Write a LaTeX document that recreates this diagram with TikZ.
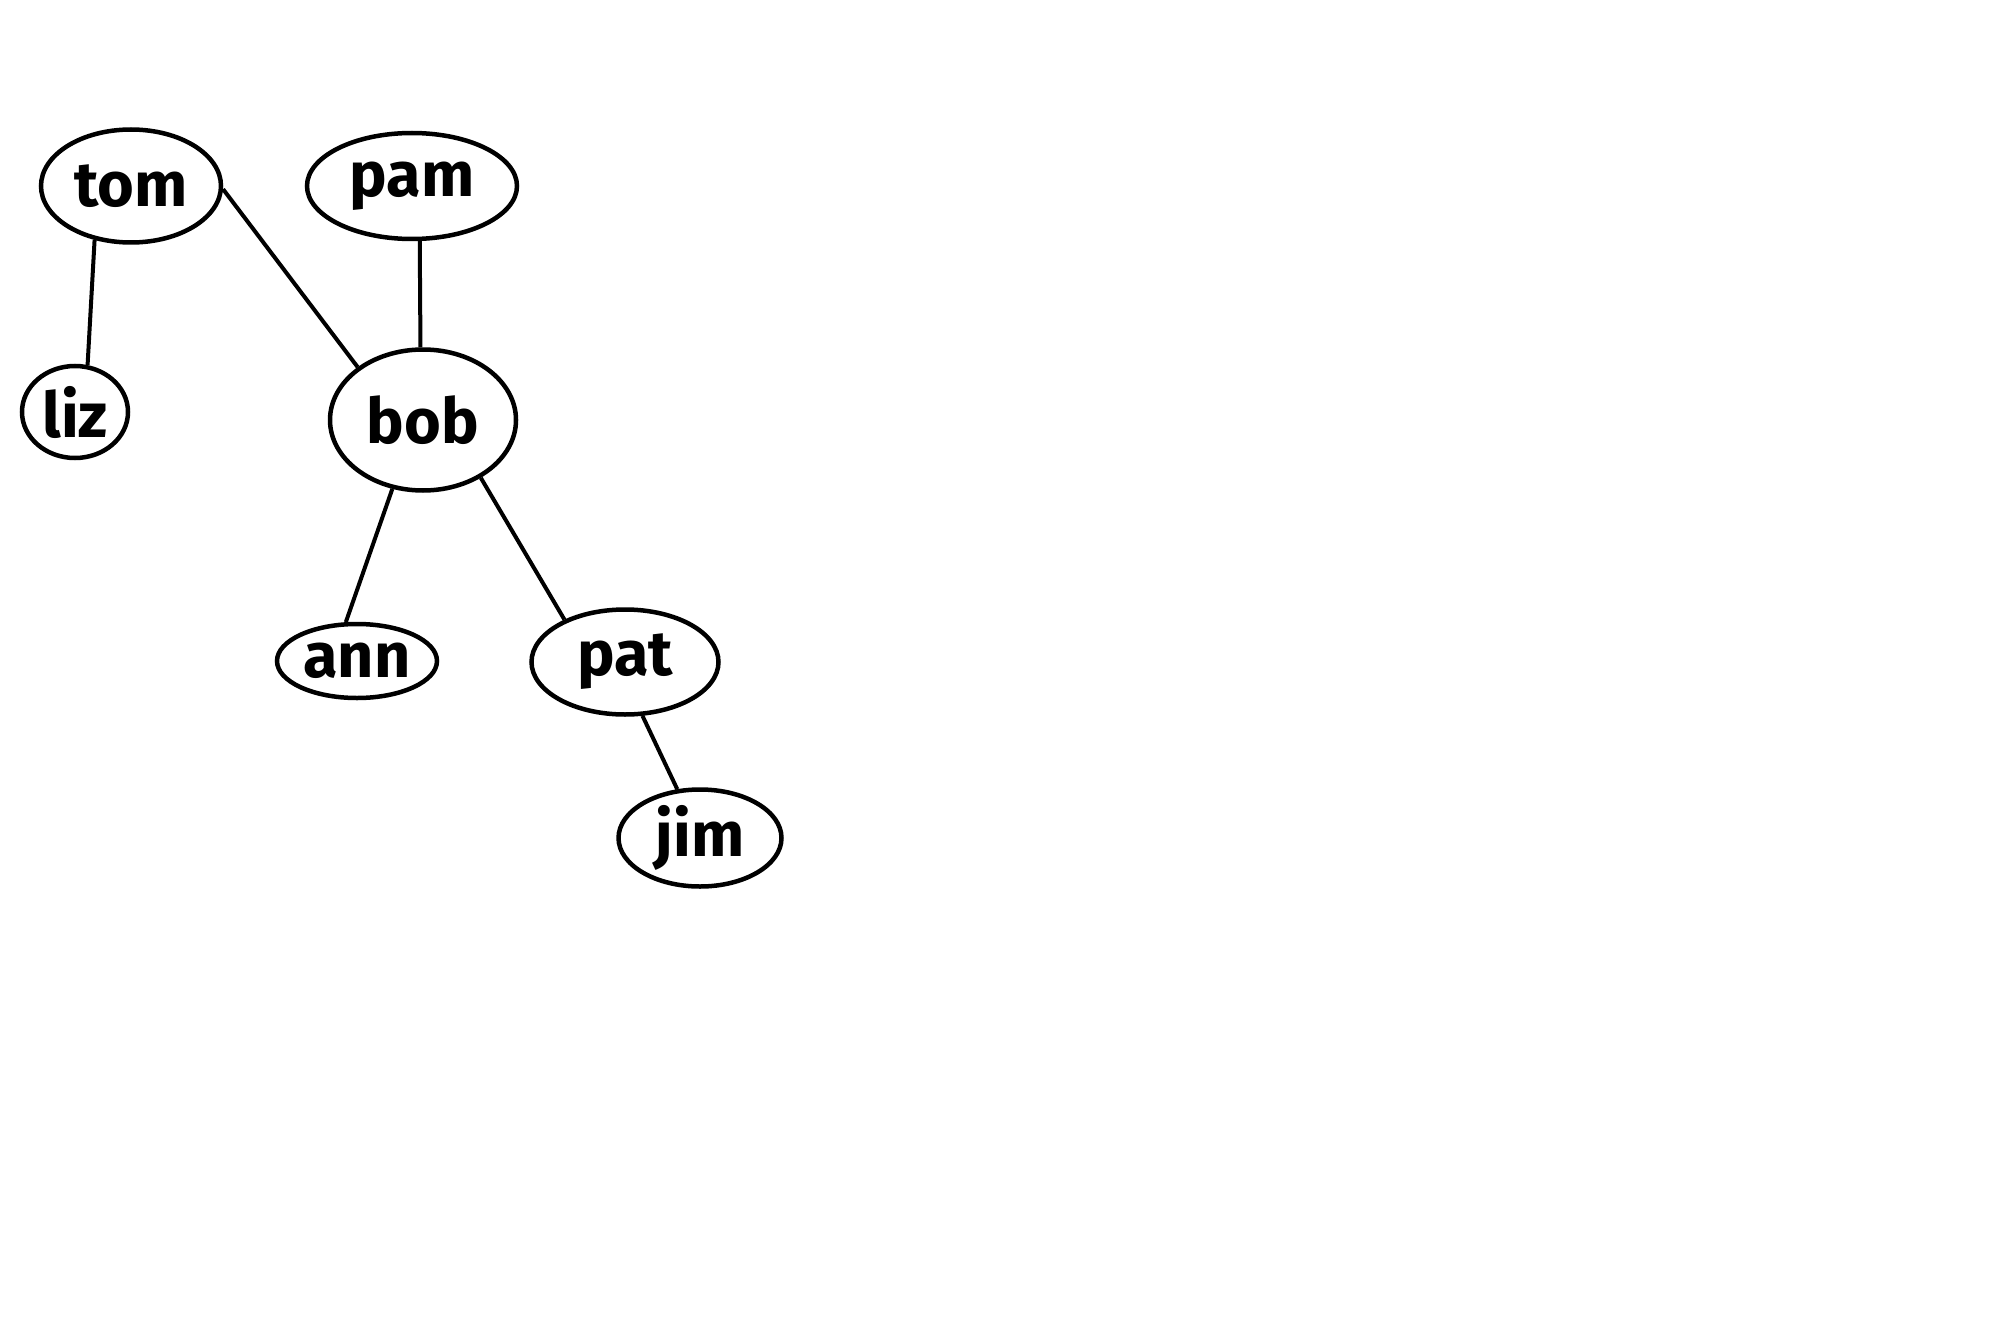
\documentclass[tikz,border=0pt]{standalone}
\usepackage{fontspec}
\setmainfont{Fira Sans}
\usetikzlibrary{shapes.geometric}

\begin{document}
\begin{tikzpicture}[x=1pt,y=1pt,
    person/.style={ellipse,draw,line width=4.5pt,inner sep=0pt,
      font=\fontsize{63}{65}\selectfont\bfseries},
    link/.style={line width=4pt}]
	  % Keep the page size
	  \useasboundingbox (0,0) rectangle (1993,-1340);
	  % Draw the people
	  \node[person,minimum width=180,minimum height=113] (tom) at (131,-186) {tom};
	  \node[person,minimum width=210,minimum height=106] (pam) at (412,-186) {pam};
	  \node[person,minimum width=106,minimum height=92] (liz) at (75,-412) {liz};
	  \node[person,minimum width=186,minimum height=141] (bob) at (423,-420) {bob};
	  \node[person,minimum width=160,minimum height=74] (ann) at (357,-661) {ann};
	  \node[person,minimum width=187,minimum height=105] (pat) at (625,-662) {pat};
	  \node[person,minimum width=163,minimum height=97] (jim) at (700,-838) {jim};
	  % Draw the links between parents and children
	  \draw[link] (tom.236) -- (liz.75);
	  \draw[link] (tom.358) -- (bob.141);
	  \draw[link] (pam.278) -- (bob.92);
	  \draw[link] (bob.246) -- (ann.106);
	  \draw[link] (bob.315) -- (pat.145);
	  \draw[link] (pat.288) -- (jim.115);
      \end{tikzpicture}
\end{document}
